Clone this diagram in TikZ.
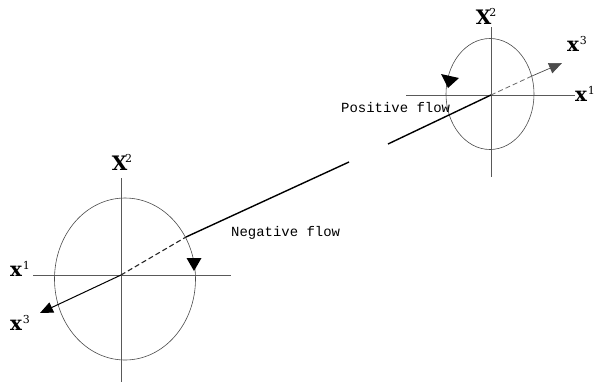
\documentclass[tikz,border=0pt]{standalone}
\usepackage{fontspec}
\newfontfamily\labfont{DejaVu Serif}
\newfontfamily\monofont{Liberation Mono}
\usetikzlibrary{arrows.meta}
\begin{document}
\begin{tikzpicture}[x=1bp,y=-1bp,
  axis/.style={draw=black!65, line width=0.6bp},
  orbit/.style={draw=black!70, line width=0.6bp},
  flow/.style={draw=black, line width=1.4bp},
  xthree/.style={draw=black, line width=1bp, -{Triangle[length=13bp,width=11bp]}},
  dashflow/.style={draw=black!85, line width=1.1bp, dash pattern=on 5bp off 3bp},
  lab/.style={inner sep=0pt, font=\labfont\bfseries\fontsize{20}{20}\selectfont},
  flowtxt/.style={inner sep=0pt, anchor=west, font=\monofont\fontsize{14}{14}\selectfont}]
\useasboundingbox (0,0) rectangle (597,388);
\fill[white] (0,0) rectangle (597,388);
% ---------- lower-left system ----------
\coordinate (A) at (121,275);
\coordinate (Ac) at (125,279);
\coordinate (Ah1) at (33,275);
\coordinate (Ah2) at (231,275);
\coordinate (Av1) at (121,178);
\coordinate (Av2) at (121,382);
\coordinate (Ax3) at (40,313);
\coordinate (Acut) at (186,237);
\coordinate (Aend) at (349,162);
\draw[axis] (Ah1) -- (Ah2);
\draw[axis] (Av1) -- (Av2);
\draw[orbit] (Ac) ellipse [x radius=70.5bp, y radius=81bp];
\draw[xthree] (A) -- (Ax3);
\draw[dashflow] (A) -- (Acut);
\draw[flow] (Acut) -- (Aend);
\fill[black] (194,271) -- (186.5,258) -- (201.5,258) -- cycle;
\node[lab] (AX2) at (122,162) {X\kern-2pt\raisebox{8pt}{\mdseries\fontsize{11}{11}\selectfont 2}};
\node[lab] (AX1) at (20,269) {x\kern1pt\raisebox{7pt}{\mdseries\fontsize{11}{11}\selectfont 1}};
\node[lab] (AX3) at (20,323) {x\kern1pt\raisebox{7pt}{\mdseries\fontsize{11}{11}\selectfont 3}};
\node[flowtxt] (neg) at (231,233) {Negative flow};
% ---------- upper-right system ----------
\coordinate (B) at (491,95);
\coordinate (Bc) at (490,94);
\coordinate (Bh1) at (406,95);
\coordinate (Bh2) at (575,95);
\coordinate (Bv1) at (491,27);
\coordinate (Bv2) at (491,177);
\coordinate (Bx3) at (562,63);
\coordinate (Bcut) at (532,76);
\coordinate (Bend) at (388,144);
\draw[axis] (Bh1) -- (Bh2);
\draw[axis] (Bv1) -- (Bv2);
\draw[orbit] (Bc) ellipse [x radius=44bp, y radius=55.5bp];
\draw[dashflow, draw=black!60, line width=0.8bp] (B) -- (Bcut);
\draw[xthree, draw=black!70, line width=0.7bp] (Bcut) -- (Bx3);
\draw[flow] (B) -- (Bend);
\fill[black] (448,88) -- (441,74) -- (459,78) -- cycle;
\node[lab] (BX2) at (486,16) {X\kern-2pt\raisebox{8pt}{\mdseries\fontsize{11}{11}\selectfont 2}};
\node[lab] (BX3) at (577,44) {x\kern1pt\raisebox{7pt}{\mdseries\fontsize{11}{11}\selectfont 3}};
\node[lab] (BX1) at (585,94) {x\kern1pt\raisebox{7pt}{\mdseries\fontsize{11}{11}\selectfont 1}};
\node[flowtxt] (pos) at (341,108) {Positive flow};
\end{tikzpicture}
\end{document}
